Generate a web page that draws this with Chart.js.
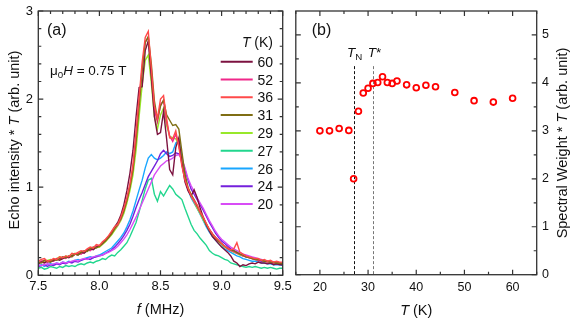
<!DOCTYPE html>
<html><head><meta charset="utf-8">
<script src="https://cdn.jsdelivr.net/npm/chart.js@4"></script>
<style>
html,body{margin:0;padding:0;background:#fff;}
#wrap{position:relative;width:581px;height:322px;overflow:hidden;background:#fff;}
canvas{position:absolute;top:0;}
</style></head><body>
<div id="wrap"><canvas id="ca" width="300" height="322" style="left:0px"></canvas><canvas id="cb" width="291" height="322" style="left:290px"></canvas></div>
<script>
// ---------- Panel (a) data ----------
const freq = [7.500,7.525,7.550,7.575,7.600,7.625,7.650,7.675,7.700,7.725,
 7.750,7.775,7.800,7.825,7.850,7.875,7.900,7.925,7.950,7.975,
 8.000,8.025,8.050,8.075,8.100,8.125,8.150,8.175,8.200,8.225,
 8.250,8.275,8.300,8.325,8.350,8.375,8.400,8.425,8.450,8.475,
 8.500,8.525,8.550,8.575,8.600,8.625,8.650,8.675,8.700,8.725,
 8.750,8.775,8.800,8.825,8.850,8.875,8.900,8.925,8.950,8.975,
 9.000,9.025,9.050,9.075,9.100,9.125,9.150,9.175,9.200,9.225,
 9.250,9.275,9.300,9.325,9.350,9.375,9.400,9.425,9.450,9.475,9.500];

const tempLabels = ['60','52','36','31','29','27','26','24','20'];

const echo60 = [0.13,0.15,0.14,0.16,0.15,0.17,0.18,0.17,0.19,0.21,
 0.20,0.22,0.24,0.23,0.26,0.25,0.28,0.30,0.29,0.32,
 0.33,0.36,0.40,0.44,0.49,0.55,0.60,0.68,0.80,0.96,
 1.16,1.42,1.80,2.13,2.14,2.55,2.66,2.25,1.80,1.60,
 1.62,1.86,1.55,1.20,1.14,1.45,1.56,1.28,1.06,0.96,
 0.90,0.97,0.88,0.76,0.66,0.57,0.50,0.44,0.40,0.36,
 0.32,0.29,0.26,0.22,0.16,0.14,0.10,0.12,0.11,0.13,
 0.14,0.13,0.15,0.14,0.14,0.13,0.14,0.12,0.13,0.12,0.12];
const echo52 = [0.14,0.16,0.17,0.15,0.17,0.16,0.19,0.18,0.20,0.19,
 0.22,0.21,0.24,0.25,0.24,0.27,0.29,0.28,0.31,0.33,
 0.34,0.36,0.40,0.43,0.48,0.53,0.57,0.64,0.74,0.86,
 1.02,1.22,1.58,1.98,2.36,2.65,2.70,2.30,1.88,1.74,
 1.94,1.98,1.74,1.58,1.52,1.60,1.48,1.26,1.10,0.98,
 0.90,0.84,0.78,0.71,0.65,0.58,0.52,0.47,0.43,0.39,
 0.36,0.33,0.30,0.28,0.27,0.25,0.24,0.22,0.21,0.20,
 0.19,0.18,0.17,0.17,0.16,0.15,0.16,0.14,0.15,0.14,0.14];
const echo36 = [0.16,0.18,0.19,0.16,0.17,0.19,0.18,0.21,0.20,0.22,
 0.21,0.25,0.24,0.26,0.28,0.27,0.30,0.32,0.31,0.35,
 0.34,0.38,0.41,0.45,0.50,0.55,0.58,0.66,0.76,0.88,
 1.04,1.26,1.62,2.02,2.42,2.70,2.77,2.35,1.92,1.78,
 2.00,2.04,1.78,1.56,1.55,1.64,1.46,1.24,1.08,0.99,
 0.90,0.85,0.80,0.72,0.66,0.59,0.52,0.47,0.43,0.40,
 0.36,0.33,0.31,0.29,0.30,0.37,0.26,0.24,0.22,0.21,
 0.20,0.19,0.19,0.17,0.18,0.16,0.17,0.15,0.16,0.15,0.15];
const echo31 = [0.15,0.14,0.17,0.16,0.15,0.18,0.17,0.19,0.21,0.20,
 0.22,0.21,0.24,0.23,0.26,0.28,0.27,0.30,0.32,0.31,
 0.33,0.36,0.39,0.43,0.47,0.53,0.58,0.64,0.73,0.85,
 1.00,1.20,1.52,1.92,2.32,2.64,2.71,2.40,1.98,1.77,
 1.92,1.99,1.82,1.76,1.70,1.71,1.66,1.40,1.15,1.00,
 0.92,0.86,0.79,0.72,0.65,0.58,0.52,0.47,0.43,0.39,
 0.36,0.33,0.31,0.29,0.28,0.26,0.24,0.23,0.21,0.20,
 0.19,0.18,0.18,0.17,0.16,0.16,0.15,0.15,0.14,0.14,0.13];
const echo29 = [0.14,0.16,0.15,0.17,0.18,0.16,0.19,0.21,0.19,0.22,
 0.21,0.23,0.25,0.24,0.27,0.26,0.29,0.31,0.30,0.33,
 0.32,0.35,0.38,0.42,0.46,0.51,0.56,0.62,0.70,0.82,
 0.96,1.14,1.42,1.80,2.16,2.44,2.50,2.18,1.80,1.66,
 1.82,1.90,1.70,1.58,1.56,1.55,1.48,1.30,1.12,0.98,
 0.90,0.83,0.76,0.70,0.63,0.57,0.51,0.46,0.42,0.38,
 0.35,0.32,0.30,0.28,0.26,0.25,0.23,0.22,0.21,0.20,
 0.19,0.18,0.17,0.17,0.16,0.15,0.15,0.14,0.14,0.13,0.13];
const echo27 = [0.08,0.09,0.07,0.08,0.10,0.09,0.08,0.10,0.09,0.11,
 0.10,0.11,0.10,0.12,0.13,0.12,0.14,0.15,0.14,0.16,
 0.17,0.19,0.18,0.21,0.23,0.22,0.26,0.29,0.33,0.37,
 0.44,0.52,0.60,0.72,0.85,0.98,1.08,1.10,0.92,0.84,
 0.95,0.90,0.96,1.02,0.98,0.92,0.89,0.86,0.76,0.67,
 0.58,0.51,0.47,0.42,0.38,0.34,0.28,0.25,0.23,0.22,
 0.20,0.18,0.17,0.14,0.13,0.12,0.11,0.10,0.09,0.10,
 0.09,0.10,0.09,0.08,0.09,0.08,0.09,0.08,0.07,0.08,0.08];
const echo26 = [0.11,0.12,0.10,0.12,0.13,0.12,0.14,0.13,0.15,0.14,
 0.16,0.15,0.17,0.18,0.17,0.19,0.20,0.21,0.20,0.22,
 0.23,0.25,0.27,0.29,0.31,0.35,0.39,0.43,0.48,0.55,
 0.63,0.73,0.85,0.97,1.08,1.22,1.33,1.37,1.33,1.31,
 1.33,1.36,1.40,1.38,1.40,1.50,1.54,1.36,1.12,0.98,
 0.88,0.82,0.76,0.69,0.62,0.55,0.49,0.44,0.40,0.36,
 0.33,0.30,0.28,0.26,0.24,0.22,0.21,0.19,0.18,0.17,
 0.16,0.16,0.15,0.14,0.14,0.13,0.13,0.12,0.12,0.12,0.11];
const echo24 = [0.10,0.11,0.12,0.10,0.12,0.11,0.13,0.12,0.14,0.13,
 0.15,0.14,0.16,0.15,0.17,0.18,0.19,0.18,0.20,0.21,
 0.22,0.23,0.25,0.27,0.29,0.32,0.36,0.40,0.45,0.51,
 0.58,0.67,0.77,0.86,0.94,1.03,1.12,1.18,1.24,1.30,
 1.38,1.42,1.38,1.35,1.36,1.39,1.38,1.32,1.20,1.08,
 0.98,0.92,0.86,0.80,0.74,0.67,0.60,0.54,0.48,0.43,
 0.39,0.36,0.33,0.30,0.28,0.26,0.24,0.22,0.21,0.20,
 0.19,0.18,0.17,0.16,0.16,0.15,0.14,0.14,0.13,0.13,0.12];
const echo20 = [0.12,0.11,0.12,0.13,0.12,0.13,0.14,0.13,0.15,0.14,
 0.15,0.16,0.17,0.16,0.18,0.19,0.18,0.20,0.21,0.22,
 0.22,0.23,0.25,0.26,0.28,0.30,0.33,0.37,0.41,0.46,
 0.52,0.59,0.66,0.74,0.82,0.90,0.98,1.06,1.14,1.19,
 1.24,1.27,1.30,1.31,1.33,1.36,1.37,1.32,1.22,1.10,
 1.02,0.95,0.88,0.82,0.76,0.69,0.62,0.56,0.50,0.45,
 0.41,0.38,0.35,0.32,0.30,0.28,0.26,0.24,0.23,0.22,
 0.21,0.20,0.19,0.18,0.17,0.16,0.16,0.15,0.15,0.14,0.14];

const echoSeries = [echo60, echo52, echo36, echo31, echo29, echo27, echo26, echo24, echo20];
const freqTicks = [7.5, 8.0, 8.5, 9.0, 9.5];
const echoTicks = [0, 1, 2, 3];

// ---------- Panel (b) data ----------
const tempK  = [20, 22, 24, 26, 27, 28, 29, 30, 31, 32, 33, 34, 35, 36, 38, 40, 42, 44, 48, 52, 56, 60];
const weight = [3.00,3.00,3.05,3.01,2.00,3.41,3.79,3.89,3.99,4.01,4.13,4.01,3.99,4.04,3.96,3.90,3.95,3.92,3.80,3.63,3.60,3.68];
const tempTicks = [20, 30, 40, 50, 60];
const weightTicks = [0, 1, 2, 3, 4, 5];
const T_N = 27, T_STAR = 31;

// ---------- styles ----------
const seriesColors = ['#7c1240','#f0288a','#ff4a4a','#7f6e14','#98e82a','#22d68e','#18a6ff','#7420dc','#d84cf6'];
const drawOrder = [2, 3, 0, 1, 4, 8, 7, 6, 5];
const FONT = '"Liberation Sans", Arial, Helvetica, sans-serif';
const AXIS = '#333';
const TXT = '#111';

function rich(ctx, parts, x, y, size, align) {
  const fontFor = p => (p.it ? 'italic ' : '') + ((p.sub || p.sup) ? size * 0.72 : size) + 'px ' + FONT;
  let w = 0;
  parts.forEach(p => { ctx.font = fontFor(p); p.w = ctx.measureText(p.t).width; w += p.w; });
  let cx = align === 'center' ? x - w / 2 : (align === 'right' ? x - w : x);
  ctx.textAlign = 'left'; ctx.textBaseline = 'alphabetic'; ctx.fillStyle = TXT;
  parts.forEach(p => {
    ctx.font = fontFor(p);
    ctx.fillText(p.t, cx, y + (p.sub ? size * 0.25 : (p.sup ? -size * 0.38 : 0)));
    cx += p.w;
  });
}
function steps(a, b, s) { const o = []; for (let v = a; v <= b + 1e-9; v += s) o.push(Math.round(v * 1000) / 1000); return o; }

function drawFrame(chart, xMaj, xMin, yMaj, yMin) {
  const { ctx, chartArea: a, scales } = chart;
  const xs = scales.x, ys = scales.y;
  ctx.save();
  ctx.strokeStyle = AXIS; ctx.lineWidth = 1.2;
  ctx.beginPath();
  const xt = (v, L) => { const p = xs.getPixelForValue(v); ctx.moveTo(p, a.bottom); ctx.lineTo(p, a.bottom - L); ctx.moveTo(p, a.top); ctx.lineTo(p, a.top + L); };
  const yt = (v, L) => { const p = ys.getPixelForValue(v); ctx.moveTo(a.left, p); ctx.lineTo(a.left + L, p); ctx.moveTo(a.right, p); ctx.lineTo(a.right - L, p); };
  xMaj.forEach(v => xt(v, 5)); xMin.forEach(v => xt(v, 3));
  yMaj.forEach(v => yt(v, 5)); yMin.forEach(v => yt(v, 3));
  ctx.stroke();
  ctx.lineWidth = 1.3;
  ctx.strokeRect(a.left, a.top, a.right - a.left, a.bottom - a.top);
  ctx.restore();
}

// ---------- Chart (a) ----------
const decorA = {
  id: 'decorA',
  afterDraw(chart) {
    const ctx = chart.ctx, a = chart.chartArea;
    drawFrame(chart, freqTicks, steps(7.6, 9.4, 0.1), echoTicks, steps(0.2, 2.8, 0.2));
    ctx.save();
    rich(ctx, [{ t: '(a)' }], 47, 34.5, 16, 'left');
    rich(ctx, [{ t: 'μ' }, { t: '0', sub: true }, { t: 'H', it: true }, { t: ' = 0.75 T' }], 50, 75, 13.5, 'left');
    rich(ctx, [{ t: 'T', it: true }, { t: ' (K)' }], 273, 47, 14, 'right');
    chart.data.datasets.forEach((ds, i) => {
      const y = 61.7 + i * 17.8;
      ctx.strokeStyle = ds.borderColor; ctx.lineWidth = 2;
      ctx.beginPath(); ctx.moveTo(220.7, y); ctx.lineTo(252.7, y); ctx.stroke();
      rich(ctx, [{ t: ds.label }], 273, y + 5, 14, 'right');
    });
    rich(ctx, [{ t: 'f', it: true }, { t: ' (MHz)' }], (a.left + a.right) / 2, 313.5, 14.5, 'center');
    ctx.save(); ctx.translate(19, 140); ctx.rotate(-Math.PI / 2);
    rich(ctx, [{ t: 'Echo intensity * ' }, { t: 'T', it: true }, { t: ' (arb. unit)' }], 0, 0, 14.5, 'center');
    ctx.restore();
    ctx.restore();
  }
};

new Chart(document.getElementById('ca'), {
  type: 'line',
  data: {
    datasets: echoSeries.map((arr, i) => ({
      label: tempLabels[i],
      data: freq.map((f, j) => ({ x: f, y: arr[j] })),
      borderColor: seriesColors[i],
      borderWidth: 1.4,
      pointRadius: 0,
      tension: 0,
      fill: false,
      order: drawOrder[i]
    }))
  },
  options: {
    responsive: false, animation: false, devicePixelRatio: 1, events: [],
    layout: { padding: { left: 0, top: 11, right: 17.3, bottom: 0 } },
    plugins: { legend: { display: false }, tooltip: { enabled: false } },
    scales: {
      x: {
        type: 'linear', min: 7.5, max: 9.5, position: 'bottom',
        grid: { display: false, drawTicks: false }, border: { display: false },
        afterBuildTicks: s => { s.ticks = freqTicks.map(v => ({ value: v })); },
        afterFit: s => { s.height = 46.7; s.paddingLeft = 0; s.paddingRight = 0; },
        ticks: { padding: 3.5, color: TXT, font: { family: FONT, size: 13 }, maxRotation: 0, autoSkip: false, callback: v => v.toFixed(1) }
      },
      y: {
        type: 'linear', min: 0, max: 3, position: 'left',
        grid: { display: false, drawTicks: false }, border: { display: false },
        afterBuildTicks: s => { s.ticks = echoTicks.map(v => ({ value: v })); },
        afterFit: s => { s.width = 38.3; s.paddingTop = 0; s.paddingBottom = 0; },
        ticks: { padding: 5.3, color: TXT, font: { family: FONT, size: 13 }, callback: v => String(v) }
      }
    }
  },
  plugins: [decorA]
});

// ---------- Chart (b) ----------
const decorB = {
  id: 'decorB',
  beforeDatasetsDraw(chart) {
    const ctx = chart.ctx, xs = chart.scales.x, ys = chart.scales.y;
    const top = ys.getPixelForValue(4.35), bot = ys.getPixelForValue(0);
    ctx.save(); ctx.lineWidth = 1; ctx.setLineDash([3, 2]);
    [[T_N, '#111'], [T_STAR, '#777']].forEach(([t, c]) => {
      const p = Math.round(xs.getPixelForValue(t)) + 0.5;
      ctx.strokeStyle = c; ctx.beginPath(); ctx.moveTo(p, top); ctx.lineTo(p, bot); ctx.stroke();
    });
    ctx.restore();
  },
  afterDraw(chart) {
    const ctx = chart.ctx, a = chart.chartArea, xs = chart.scales.x;
    drawFrame(chart, tempTicks, [15, 25, 35, 45, 55, 65], weightTicks, [0.5, 1.5, 2.5, 3.5, 4.5]);
    ctx.save();
    rich(ctx, [{ t: '(b)' }], 21.7, 34.5, 16, 'left');
    rich(ctx, [{ t: 'T', it: true }, { t: 'N', sub: true }], xs.getPixelForValue(T_N) + 1, 57, 13.5, 'center');
    rich(ctx, [{ t: 'T', it: true }, { t: '*' }], xs.getPixelForValue(T_STAR) + 1.5, 57, 13.5, 'center');
    rich(ctx, [{ t: 'T', it: true }, { t: ' (K)' }], (a.left + a.right) / 2, 314.5, 14.5, 'center');
    ctx.save(); ctx.translate(276.7, 143); ctx.rotate(-Math.PI / 2);
    rich(ctx, [{ t: 'Spectral Weight * ' }, { t: 'T', it: true }, { t: ' (arb. unit)' }], 0, 0, 14.5, 'center');
    ctx.restore();
    ctx.restore();
  }
};

new Chart(document.getElementById('cb'), {
  type: 'scatter',
  data: {
    datasets: [{
      label: 'Spectral weight',
      data: tempK.map((t, i) => ({ x: t, y: weight[i] })),
      pointStyle: 'circle', pointRadius: 2.9, borderWidth: 1.8,
      borderColor: '#ff0000', backgroundColor: 'rgba(255,255,255,0)'
    }]
  },
  options: {
    responsive: false, animation: false, devicePixelRatio: 1, events: [],
    layout: { padding: { left: 2.7, top: 11, right: 0, bottom: 0 } },
    plugins: { legend: { display: false }, tooltip: { enabled: false } },
    scales: {
      x: {
        type: 'linear', min: 15, max: 65, position: 'bottom',
        grid: { display: false, drawTicks: false }, border: { display: false },
        afterBuildTicks: s => { s.ticks = tempTicks.map(v => ({ value: v })); },
        afterFit: s => { s.height = 47.3; s.paddingLeft = 0; s.paddingRight = 0; },
        ticks: { padding: 5, color: TXT, font: { family: FONT, size: 12.5 }, maxRotation: 0, autoSkip: false }
      },
      y: {
        type: 'linear', min: 0, max: 5.5, position: 'right',
        grid: { display: false, drawTicks: false }, border: { display: false },
        afterBuildTicks: s => { s.ticks = weightTicks.map(v => ({ value: v })); },
        afterFit: s => { s.width = 44.3; s.paddingTop = 0; s.paddingBottom = 0; },
        ticks: { padding: 5.3, color: TXT, font: { family: FONT, size: 12.5 } }
      }
    }
  },
  plugins: [decorB]
});
</script>
</body></html>
